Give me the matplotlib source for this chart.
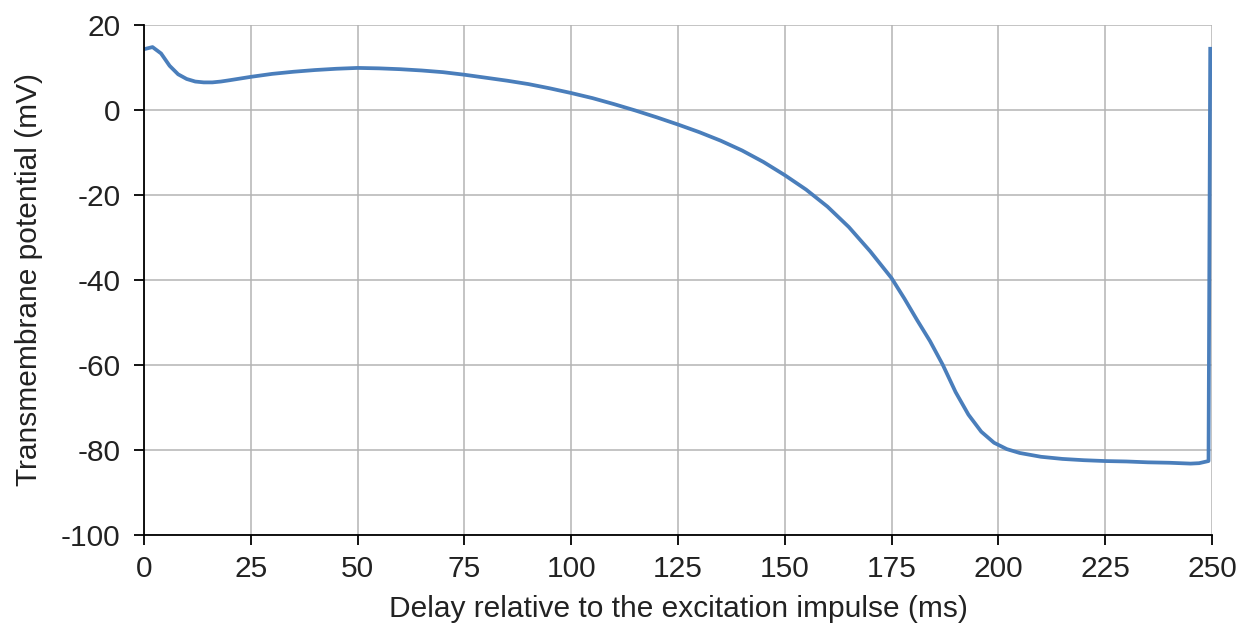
import matplotlib
matplotlib.use('Agg')
import matplotlib.pyplot as plt

# Action potential trace
delay_ms = [0, 2, 4, 6, 8, 10, 12, 14, 16, 18, 20, 25, 30, 35, 40, 45, 50,
            55, 60, 65, 70, 75, 80, 85, 90, 95, 100, 105, 110, 115, 120, 125,
            130, 135, 140, 145, 150, 155, 160, 165, 170, 175, 178, 181, 184,
            187, 190, 193, 196, 199, 202, 205, 210, 215, 220, 225, 230, 235,
            240, 245, 247, 249.2, 249.6]
potential_mv = [14.2, 14.7, 13.2, 10.3, 8.3, 7.2, 6.6, 6.4, 6.4, 6.6, 6.9,
                7.7, 8.4, 8.9, 9.3, 9.6, 9.8, 9.7, 9.5, 9.2, 8.8, 8.2, 7.5,
                6.8, 6.0, 5.0, 3.9, 2.7, 1.3, -0.2, -1.8, -3.5, -5.3, -7.3,
                -9.6, -12.3, -15.4, -18.8, -22.8, -27.6, -33.3, -39.6, -44.4,
                -49.5, -54.4, -60.0, -66.4, -71.7, -75.7, -78.3, -79.8, -80.7,
                -81.6, -82.1, -82.4, -82.6, -82.7, -82.9, -83.0, -83.2, -83.1,
                -82.6, 14.3]

x_ticks = [0, 25, 50, 75, 100, 125, 150, 175, 200, 225, 250]
y_ticks = [20, 0, -20, -40, -60, -80, -100]

plt.rcParams['font.family'] = ['Liberation Sans', 'DejaVu Sans']

fig = plt.figure(figsize=(12.52, 6.37), dpi=100)
ax = fig.add_axes([0.115, 0.160, 0.853, 0.8015])

ax.plot(delay_ms, potential_mv, color='#4a7ebb', linewidth=2.7,
        solid_joinstyle='round', zorder=3)

ax.set_xlim(0, 250)
ax.set_ylim(-100, 20)
ax.set_xticks(x_ticks)
ax.set_yticks(y_ticks)
ax.set_yticklabels([str(v) for v in y_ticks])

# Grid like the spreadsheet chart
ax.grid(True, color='#b4b4b4', linewidth=1.1)
ax.set_axisbelow(True)
ax.spines['top'].set_visible(False)
ax.spines['right'].set_visible(False)
ax.spines['left'].set_linewidth(1.3)
ax.spines['bottom'].set_linewidth(1.3)
ax.spines['left'].set_zorder(4)
ax.spines['bottom'].set_zorder(4)

ax.tick_params(axis='both', direction='out', length=7, width=1.3,
               labelsize=21.5, colors='black', labelcolor='#222222')
ax.tick_params(axis='y', pad=10)
ax.tick_params(axis='x', pad=7)

ax.set_xlabel('Delay relative to the excitation impulse (ms)', fontsize=21.5,
              color='#222222', labelpad=9)
ax.set_ylabel('Transmembrane potential (mV)', fontsize=21.5,
              color='#222222', labelpad=13)

fig.savefig('out.png', dpi=100)
